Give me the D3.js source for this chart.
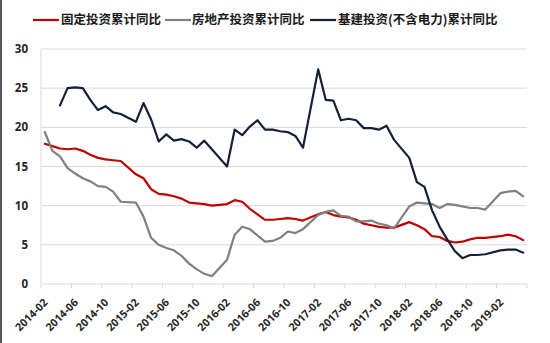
<!DOCTYPE html>
<html>
<head>
<meta charset="utf-8">
<script src="https://cdn.jsdelivr.net/npm/d3@7"></script>
<style>
html,body{margin:0;padding:0;background:#fff;}
svg{display:block;}
</style>
</head>
<body>
<svg id="chart" width="550" height="343"></svg>
<script>
const categories = [
"2014-02","2014-03","2014-04","2014-05","2014-06","2014-07","2014-08","2014-09","2014-10","2014-11","2014-12",
"2015-01","2015-02","2015-03","2015-04","2015-05","2015-06","2015-07","2015-08","2015-09","2015-10","2015-11","2015-12",
"2016-01","2016-02","2016-03","2016-04","2016-05","2016-06","2016-07","2016-08","2016-09","2016-10","2016-11","2016-12",
"2017-01","2017-02","2017-03","2017-04","2017-05","2017-06","2017-07","2017-08","2017-09","2017-10","2017-11","2017-12",
"2018-01","2018-02","2018-03","2018-04","2018-05","2018-06","2018-07","2018-08","2018-09","2018-10","2018-11","2018-12",
"2019-01","2019-02","2019-03","2019-04","2019-05"];

// 固定投资累计同比
const fixedInvest = [
17.9,17.6,17.3,17.2,17.3,17.0,16.5,16.1,15.9,15.8,15.7,
null,14.0,13.5,12.1,11.5,11.4,11.2,10.9,10.4,10.3,10.2,10.0,
null,10.2,10.7,10.5,9.6,8.9,8.2,8.2,8.3,8.4,8.3,8.1,
null,8.9,9.2,8.8,8.6,8.5,8.2,7.7,7.5,7.3,7.2,7.2,
null,7.9,7.5,7.0,6.1,6.0,5.5,5.3,5.4,5.7,5.9,5.9,
null,6.1,6.3,6.1,5.6];

// 房地产投资累计同比
const realEstate = [
19.4,17.0,16.3,14.8,14.1,13.5,13.1,12.5,12.4,11.8,10.5,
null,10.4,8.6,5.9,5.0,4.6,4.3,3.6,2.6,1.9,1.3,1.0,
null,3.1,6.3,7.3,7.0,6.2,5.4,5.5,5.9,6.7,6.5,7.0,
null,8.8,9.2,9.4,8.7,8.6,8.0,8.0,8.1,7.7,7.5,7.1,
null,9.9,10.4,10.3,10.2,9.7,10.2,10.1,9.9,9.7,9.7,9.5,
null,11.6,11.8,11.9,11.2];

// 基建投资(不含电力)累计同比
const infra = [
null,null,22.8,25.0,25.1,25.0,23.5,22.2,22.7,21.9,21.7,
null,20.7,23.1,21.0,18.2,19.1,18.3,18.5,18.2,17.4,18.3,17.2,
null,15.0,19.7,19.0,20.1,20.9,19.7,19.7,19.5,19.4,18.9,17.4,
null,27.4,23.5,23.4,20.9,21.1,20.9,19.9,19.9,19.7,20.2,18.4,
null,16.1,13.0,12.4,9.4,7.3,5.7,4.2,3.3,3.7,3.7,3.8,
null,4.3,4.4,4.4,4.0];

const seriesNames = ["固定投资累计同比","房地产投资累计同比","基建投资(不含电力)累计同比"];
const seriesColors = ["#C00000","#808080","#13213A"];
const yTicks = [0,5,10,15,20,25,30];
const tickEvery = 4;

const svg = d3.select("#chart");
const plotLeft = 41, plotRight = 527, plotTop = 49, plotBottom = 284;

const x = d3.scaleBand().domain(categories).range([plotLeft, plotRight]).padding(0);
const y = d3.scaleLinear().domain([0, 30]).range([plotBottom, plotTop]);
const cx = c => x(c) + x.bandwidth() / 2;

// left frame border
svg.append("rect").attr("x", 0).attr("y", 0).attr("width", 2).attr("height", 343).attr("fill", "#555");

// gridlines
svg.append("g").selectAll("line").data(yTicks.filter(d => d > 0)).join("line")
  .attr("x1", plotLeft).attr("x2", plotRight)
  .attr("y1", d => y(d)).attr("y2", d => y(d))
  .attr("stroke", "#d9d9d9").attr("stroke-width", 1);

// vertical axis line
svg.append("line").attr("x1", plotLeft).attr("x2", plotLeft).attr("y1", plotTop).attr("y2", plotBottom)
  .attr("stroke", "#d9d9d9").attr("stroke-width", 1);

// y labels
svg.append("g").selectAll("text").data(yTicks).join("text")
  .attr("x", 28).attr("y", d => y(d)).attr("dy", "0.36em")
  .attr("text-anchor", "end")
  .attr("font-family", "'Open Sans', sans-serif").attr("font-weight", "bold")
  .attr("font-size", "11.5px").attr("fill", "#262626")
  .text(d => d);

// x axis line
svg.append("line").attr("x1", plotLeft).attr("x2", plotRight).attr("y1", plotBottom).attr("y2", plotBottom)
  .attr("stroke", "#d9d9d9").attr("stroke-width", 1);

// x ticks at category boundaries
const tickIdx = d3.range(0, categories.length + 1, tickEvery);
svg.append("g").selectAll("line").data(tickIdx).join("line")
  .attr("x1", i => plotLeft + i * x.bandwidth()).attr("x2", i => plotLeft + i * x.bandwidth())
  .attr("y1", plotBottom).attr("y2", plotBottom + 4)
  .attr("stroke", "#d9d9d9").attr("stroke-width", 1);

// x labels
const labelCats = categories.filter((c, i) => i % tickEvery === 0);
svg.append("g").selectAll("text").data(labelCats).join("text")
  .attr("transform", c => `translate(${cx(c) + 1},${plotBottom + 16.5}) rotate(-45)`)
  .attr("text-anchor", "end").attr("dy", "0.35em")
  .attr("font-family", "'Open Sans', sans-serif").attr("font-weight", "bold")
  .attr("font-size", "10.8px").attr("fill", "#262626")
  .text(c => c);

// lines
const allSeries = [fixedInvest, realEstate, infra];
const line = d3.line().x(d => cx(d.c)).y(d => y(d.v)).curve(d3.curveLinear);
allSeries.forEach((vals, k) => {
  const pts = categories.map((c, i) => ({c, v: vals[i]})).filter(d => d.v !== null);
  svg.append("path").datum(pts)
    .attr("d", line)
    .attr("fill", "none")
    .attr("stroke", seriesColors[k])
    .attr("stroke-width", 2.2)
    .attr("stroke-linejoin", "round")
    .attr("stroke-linecap", "round");
});

// legend
const legendItems = [
  {x: 33, tx: 61},
  {x: 165, tx: 192},
  {x: 310, tx: 338}
];
const lg = svg.append("g");
legendItems.forEach((it, k) => {
  lg.append("line").attr("x1", it.x).attr("x2", it.x + 26).attr("y1", 20).attr("y2", 20)
    .attr("stroke", seriesColors[k]).attr("stroke-width", 2.2);
  lg.append("text").attr("x", it.tx).attr("y", 20).attr("dy", "0.35em")
    .attr("font-family", "'Noto Sans CJK SC', sans-serif").attr("font-weight", "bold")
    .attr("font-size", "12.5px").attr("fill", "#1a1a1a")
    .text(seriesNames[k]);
});
</script>
</body>
</html>
